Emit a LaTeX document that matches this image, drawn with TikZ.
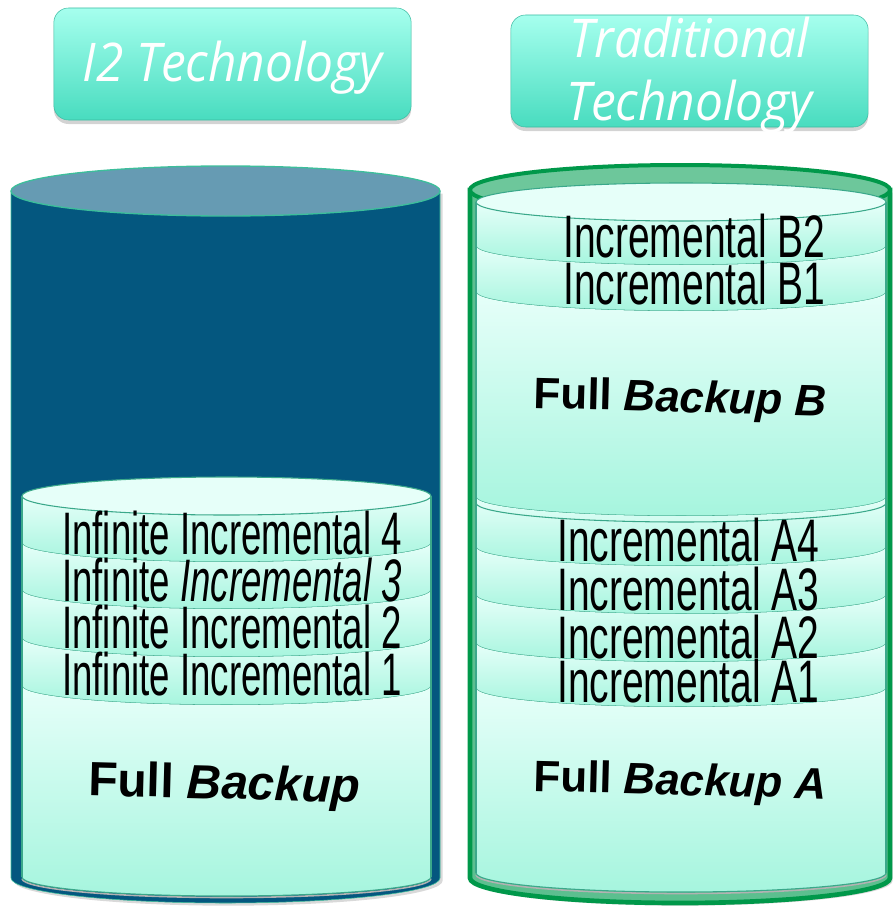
\documentclass[tikz,border=0pt]{standalone}
\usepackage{fontspec}
\setmainfont{Liberation Sans}
\newfontfamily\narrowsans[FakeStretch=0.61]{Liberation Sans}
\newfontfamily\narrowsanswide[FakeStretch=0.65]{Liberation Sans}
\newfontfamily\headsans[FakeStretch=0.93]{Open Sans}
\usetikzlibrary{shadows}

\definecolor{navybody}{HTML}{04577F}
\definecolor{navytop}{HTML}{669BB3}
\definecolor{tealedge}{HTML}{3DBE9B}
\definecolor{mintlight}{HTML}{E6FFF9}
\definecolor{mintdark}{HTML}{A6F5DE}
\definecolor{ringline}{HTML}{3AA88A}
\definecolor{greenrim}{HTML}{00984A}
\definecolor{greentop}{HTML}{6DC79B}
\definecolor{greenbody}{HTML}{5CBF8F}
\definecolor{headtop}{HTML}{A6FFEE}
\definecolor{headbot}{HTML}{48DCBF}

\tikzset{
  headbox/.style={rectangle, rounded corners=11pt, minimum width=268pt, minimum height=84pt,
    top color=headtop, bottom color=headbot, draw=headbot!85!black,
    drop shadow={shadow xshift=0pt, shadow yshift=-3pt, opacity=0.35}},
  headtext/.style={text=white, font=\headsans\itshape\fontsize{40}{47}\selectfont, align=center, inner sep=0pt},
  inctext/.style={font=\narrowsans\fontsize{45}{45}\selectfont, anchor=base west, inner sep=0pt},
  inctextwide/.style={inctext, font=\narrowsanswide\fontsize{45}{45}\selectfont},
  fulltext/.style={font=\bfseries\fontsize{36}{36}\selectfont, anchor=base, inner sep=0pt, rotate=-1.5},
  fulltextnarrow/.style={fulltext, font=\bfseries\fontsize{33}{33}\selectfont},
  slab/.style={top color=mintlight, bottom color=mintdark},
  ring/.style={draw=ringline, line width=0.8pt},
  ringshade/.style={draw=gray!60, line width=1.2pt},
}

\begin{document}
\begin{tikzpicture}[x=0.75pt,y=-0.75pt]
\useasboundingbox (0,0) rectangle (892,906);

% outer tanks
\fill[navybody, drop shadow={shadow xshift=2pt, shadow yshift=-2pt, opacity=0.3}] (11,191) -- (11,878)
  arc[start angle=180,end angle=0,x radius=214.5,y radius=25] -- (440,191) -- cycle;
\draw[tealedge] (11,191) -- (11,878) arc[start angle=180,end angle=0,x radius=214.5,y radius=25] -- (440,191);
\filldraw[fill=navytop, draw=tealedge, line width=1pt] (225.5,191) ellipse[x radius=214.5,y radius=25];

\filldraw[fill=greenbody, draw=greenrim, line width=3.5pt, drop shadow={shadow xshift=2pt, shadow yshift=-2pt, opacity=0.3}]
  (470,190) -- (470,878) arc[start angle=180,end angle=0,x radius=210,y radius=25] -- (890,190) -- cycle;
\filldraw[fill=greentop, draw=greenrim, line width=3pt] (680,190) ellipse[x radius=210,y radius=25];

% left stack
\foreach \t/\b in {496/543,543/590,590/638,638/686,686/877}{
  \shade[slab] (22,\t) arc[start angle=180,end angle=0,x radius=204.5,y radius=19]
    -- (431,\b) arc[start angle=0,end angle=180,x radius=204.5,y radius=19] -- cycle;
  \draw[ringshade] (22,\b+1.5) arc[start angle=180,end angle=0,x radius=204.5,y radius=19];
  \draw[ring] (22,\b) arc[start angle=180,end angle=0,x radius=204.5,y radius=19];
};
\draw[ring] (22,496) -- (22,877) (431,496) -- (431,877);
\filldraw[fill=mintlight, draw=ringline, line width=0.8pt] (226.5,496) ellipse[x radius=204.5,y radius=19];

% right stack
\foreach \t/\b in {202/246,246/292,292/497,497/547,547/595,595/643,643/688,688/873}{
  \shade[slab] (476,\t) arc[start angle=180,end angle=0,x radius=205,y radius=19]
    -- (886,\b) arc[start angle=0,end angle=180,x radius=205,y radius=19] -- cycle;
  \draw[ringshade] (476,\b+1.5) arc[start angle=180,end angle=0,x radius=205,y radius=19];
  \draw[ring] (476,\b) arc[start angle=180,end angle=0,x radius=205,y radius=19];
};
\draw[ring] (476,503) arc[start angle=180,end angle=0,x radius=205,y radius=19];
\draw[ring] (476,202) -- (476,873) (886,202) -- (886,873);
\filldraw[fill=mintlight, draw=ringline, line width=0.8pt] (681,202) ellipse[x radius=205,y radius=19];

% labels
\node[inctext] (inf4) at (62,554) {Infinite Incremental 4};
\node[inctext] (inf3) at (62,601) {Infinite \textit{Incremental 3}};
\node[inctext] (inf2) at (62,648) {Infinite Incremental 2};
\node[inctext] (inf1) at (62,695) {Infinite Incremental 1};
\node[fulltext] (fullleft) at (224,799) {Full \textit{Backup}};

\node[inctextwide] (incb2) at (563,257) {Incremental B2};
\node[inctextwide] (incb1) at (563,304) {Incremental B1};
\node[fulltextnarrow] (fullb) at (680,412) {Full \textit{Backup B}};
\node[inctextwide] (inca4) at (557,561) {Incremental A4};
\node[inctextwide] (inca3) at (557,610) {Incremental A3};
\node[inctextwide] (inca2) at (557,658) {Incremental A2};
\node[inctextwide] (inca1) at (557,702) {Incremental A1};
\node[fulltextnarrow] (fulla) at (680,795) {Full \textit{Backup A}};

% headers
\node[headbox] (boxi2) at (232.5,64) {};
\node[headtext] (txti2) at ([yshift=-3pt]boxi2.center) {I2 Technology};
\node[headbox] (boxtrad) at (689.5,71) {};
\node[headtext] (txttrad) at ([yshift=-3pt]boxtrad.center) {Traditional\\Technology};
\end{tikzpicture}
\end{document}
